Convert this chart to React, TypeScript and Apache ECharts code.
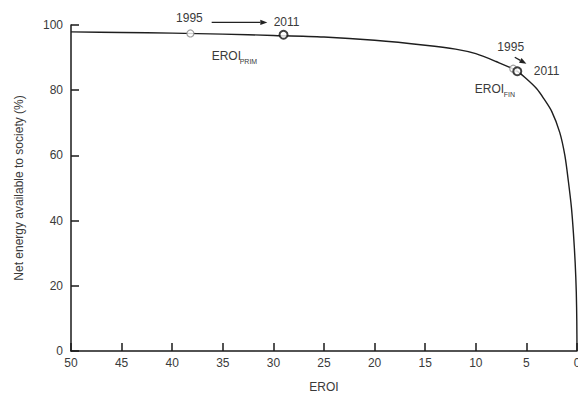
import React, { useEffect, useRef } from 'react';
import * as echarts from 'echarts';

// Curve: EROI (x, reversed axis) vs net energy available (%)
const curveEroi = [50, 45, 40, 35, 30, 25, 20, 15, 12, 10, 8, 6, 5, 4, 3.3, 2.5, 1.7, 1.2, 0.85, 0.55, 0.35, 0.18, 0.07, 0.02, 0];
const curveNet = [97.9, 97.7, 97.5, 97.2, 96.8, 96.3, 95.3, 93.8, 92.6, 91.2, 88.8, 86.0, 83.5, 80.5, 77.5, 73.5, 67.0, 60.0, 52.0, 44.0, 36.0, 27.0, 18.0, 9.0, 0];

// Highlighted points
const primEroi = [38.2, 29.0];
const primNet = [97.4, 97.0];
const finEroi = [6.3, 5.9];
const finNet = [86.6, 85.8];
const years = ['1995', '2011'];

// Tick labels
const xTicks = [50, 45, 40, 35, 30, 25, 20, 15, 10, 5, 0];
const yTicks = [0, 20, 40, 60, 80, 100];

// Annotation anchors in data coordinates
const primYear1995 = [38.3, 102.0];
const primYear2011 = [28.7, 100.8];
const primArrow = [[36.1, 100.8], [30.6, 100.8]];
const primName = [36.1, 90.6];
const finYear1995 = [6.55, 93.4];
const finYear2011 = [3.0, 85.8];
const finArrow = [[6.15, 90.1], [5.0, 88.1]];
const finName = [10.1, 80.4];

const FONT = '"Liberation Sans", Arial, Helvetica, sans-serif';
const TXT = '#3a3a3a';

export default function App() {
  const ref = useRef<HTMLDivElement>(null);
  useEffect(() => {
    if (!ref.current) return;
    const chart = echarts.init(ref.current, null, { renderer: 'svg' });
    const curve = curveEroi.map((x, i) => [x, curveNet[i]]);
    const ringStyle = (dark: boolean) => ({
      color: '#ffffff',
      borderColor: dark ? '#111111' : '#8a8a8a',
      borderWidth: dark ? 2 : 1.2,
    });
    const pts = (xs: number[], ys: number[]) =>
      xs.map((x, i) => ({ value: [x, ys[i]], name: years[i], itemStyle: ringStyle(i === 1), symbolSize: i === 1 ? 8 : 7 }));

    chart.setOption({
      animation: false,
      backgroundColor: '#ffffff',
      grid: { left: 71, right: 1, top: 25, bottom: 48, containLabel: false, outerBoundsMode: 'none' },
      xAxis: {
        type: 'value',
        inverse: true,
        min: 0,
        max: 50,
        interval: 5,
        name: 'EROI',
        nameLocation: 'middle',
        nameGap: 30,
        nameTextStyle: { fontFamily: FONT, fontSize: 12, color: TXT },
        axisLine: { show: true, onZero: false, lineStyle: { color: '#1a1a1a', width: 1.5 } },
        axisTick: { show: true, inside: true, length: 8, lineStyle: { color: '#1a1a1a', width: 1.5 } },
        axisLabel: {
          fontFamily: FONT, fontSize: 12, color: TXT, margin: 6,
          formatter: (v: number) => (xTicks.includes(v) ? String(v) : ''),
        },
        splitLine: { show: false },
      },
      yAxis: {
        type: 'value',
        position: 'left',
        min: 0,
        max: 100,
        interval: 20,
        name: 'Net energy available to society (%)',
        nameLocation: 'middle',
        nameGap: 46,
        nameTextStyle: { fontFamily: FONT, fontSize: 12, color: TXT },
        axisLine: { show: true, onZero: false, lineStyle: { color: '#1a1a1a', width: 1.5 } },
        axisTick: { show: true, inside: true, length: 8, lineStyle: { color: '#1a1a1a', width: 1.5 } },
        axisLabel: {
          fontFamily: FONT, fontSize: 12, color: TXT, margin: 8,
          formatter: (v: number) => (yTicks.includes(v) ? String(v) : ''),
        },
        splitLine: { show: false },
      },
      series: [
        {
          type: 'line',
          data: curve,
          smooth: 0.3,
          showSymbol: false,
          clip: false,
          lineStyle: { color: '#1e1e1e', width: 1.4 },
          z: 2,
        },
        { type: 'scatter', symbol: 'circle', data: pts(primEroi, primNet), z: 3 },
        { type: 'scatter', symbol: 'circle', data: pts(finEroi, finNet), z: 3 },
      ],
    });

    const px = (p: number[]) => chart.convertToPixel({ gridIndex: 0 }, p) as number[];
    const text = (p: number[], t: string, align: string, size = 12, dx = 0, dy = 0) => {
      const q = px(p);
      return {
        type: 'text',
        x: q[0] + dx,
        y: q[1] + dy,
        style: { text: t, fontFamily: FONT, fontSize: size, fill: TXT, align, verticalAlign: 'middle' },
        z: 10,
      };
    };
    const arrow = (a: number[][]) => {
      const p0 = px(a[0]);
      const p1 = px(a[1]);
      const ang = Math.atan2(p1[1] - p0[1], p1[0] - p0[0]);
      const L = 7;
      const W = 2.6;
      const bx = p1[0] - L * Math.cos(ang);
      const by = p1[1] - L * Math.sin(ang);
      const nx = -Math.sin(ang) * W;
      const ny = Math.cos(ang) * W;
      return [
        { type: 'line', shape: { x1: p0[0], y1: p0[1], x2: bx, y2: by }, style: { stroke: '#222', lineWidth: 1.3 }, z: 10 },
        { type: 'polygon', shape: { points: [[p1[0], p1[1]], [bx + nx, by + ny], [bx - nx, by - ny]] }, style: { fill: '#222' }, z: 10 },
      ];
    };

    chart.setOption({
      graphic: [
        text(primYear1995, '1995', 'center'),
        text(primYear2011, '2011', 'center'),
        ...arrow(primArrow),
        text(primName, 'EROI', 'left'),
        text(primName, 'PRIM', 'left', 7, 28, 6),
        text(finYear1995, '1995', 'center'),
        text(finYear2011, '2011', 'center'),
        ...arrow(finArrow),
        text(finName, 'EROI', 'left'),
        text(finName, 'FIN', 'left', 7, 29, 6),
      ],
    });

    return () => chart.dispose();
  }, []);
  return <div ref={ref} style={{ position: 'fixed', left: 0, top: 0, width: 578, height: 399 }} />;
}
